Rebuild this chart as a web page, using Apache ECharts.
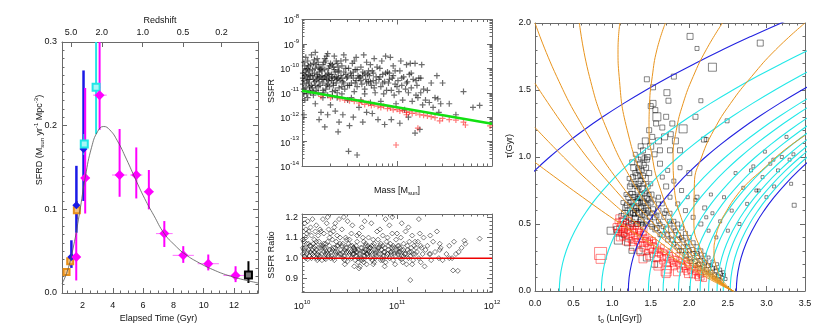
<!DOCTYPE html>
<html lang="en">
  <head>
    <meta charset="UTF-8">
    <title>SFRD, SSFR and log-normal parameters</title>
    <script src="https://cdn.jsdelivr.net/npm/echarts@6/dist/echarts.min.js"></script>
  </head>
  <body style="margin:0;background:#fff">
    <div id="main" style="width: 830px;height:332px;"></div>
    <script type="text/javascript">
      // ---- left panel: cosmic SFRD vs elapsed time ----
      var FIT_T    = [0.65, 1.0, 1.4, 1.8, 2.2, 2.6, 3.0, 3.4, 3.8, 4.3, 4.9, 5.5, 6.1, 6.7, 7.4, 8.1, 8.8, 9.7, 10.6, 11.6, 12.6, 13.58];
      var FIT_SFRD = [0.011, 0.026, 0.055, 0.095, 0.14, 0.174, 0.193, 0.199, 0.195, 0.182, 0.16, 0.136, 0.113, 0.093, 0.071, 0.057, 0.046, 0.036, 0.028, 0.021, 0.016, 0.012];
      // [t, sfrd, tlo, thi, lo, hi]
      var PTS_ORANGE  = [[0.95, 0.025, 0.95, 0.95, 0.021, 0.029], [1.19, 0.038, 1.19, 1.19, 0.033, 0.043], [1.63, 0.099, 1.63, 1.63, 0.088, 0.11]];
      var PTS_BLUE    = [[1.27, 0.043, 1.1, 1.45, 0.03, 0.063], [1.6, 0.105, 1.45, 1.8, 0.072, 0.152], [2.07, 0.172, 1.95, 2.2, 0.11, 0.266]];
      var PTS_CYAN    = [[2.12, 0.178, 2.0, 2.25, 0.165, 0.19], [2.9, 0.246, 2.65, 3.2, 0.19, 0.32]];
      var PTS_MAGENTA = [[1.59, 0.043, 1.59, 1.59, 0.015, 0.072], [2.18, 0.1375, 1.9, 2.5, 0.095, 0.245], [3.13, 0.2365, 2.7, 3.6, 0.195, 0.32],
                         [4.45, 0.141, 3.95, 4.95, 0.115, 0.196], [5.55, 0.141, 5.15, 5.95, 0.113, 0.174], [6.38, 0.121, 6.05, 6.7, 0.1, 0.147],
                         [7.4, 0.071, 6.85, 7.95, 0.055, 0.086], [8.65, 0.045, 7.95, 9.35, 0.036, 0.056], [10.3, 0.035, 9.6, 11.0, 0.027, 0.046],
                         [12.1, 0.021, 11.3, 12.9, 0.013, 0.032]];
      var PTS_BLACK   = [[12.95, 0.0215, 12.95, 12.95, 0.012, 0.038]];
      var TIME_TICKS = [2, 4, 6, 8, 10, 12];
      var REDSHIFT_AT_T = [1.24, 3.28, 5.97, 8.64, 11.17];
      var REDSHIFT_LABELS = ['5.0', '2.0', '1.0', '0.5', '0.2'];

      // ---- middle top: log SSFR vs log mass ----
      var SSFR_BLACK = [
        [10.01,-10.2],[10.02,-10.5],[10.03,-9.9],[10.04,-10.8],[10.05,-10.35],[10.06,-9.7],[10.07,-10.6],[10.08,-10.1],[10.09,-11.0],[10.02,-10.95],
        [10.04,-9.55],[10.06,-10.45],[10.08,-10.75],[10.03,-11.3],[10.05,-10.05],[10.09,-9.85],[10.01,-10.65],[10.07,-10.25],[10.1,-9.45],[10.02,-11.9],[10.06,-11.2],
        [10.11,-10.3],[10.12,-9.8],[10.13,-10.55],[10.14,-10.0],[10.15,-10.9],[10.16,-9.6],[10.17,-10.4],[10.18,-10.15],[10.19,-10.7],[10.12,-11.1],
        [10.14,-9.35],[10.16,-10.25],[10.18,-9.95],[10.11,-10.8],[10.13,-9.65],[10.15,-10.5],[10.17,-11.0],[10.19,-10.05],[10.2,-11.8],[10.14,-11.45],[10.18,-12.1],
        [10.21,-10.1],[10.22,-10.6],[10.23,-9.75],[10.24,-10.35],[10.25,-10.85],[10.26,-9.5],[10.27,-10.2],[10.28,-10.5],[10.29,-9.9],[10.22,-11.2],
        [10.24,-9.6],[10.26,-10.7],[10.28,-10.0],[10.21,-10.45],[10.23,-11.0],[10.25,-10.3],[10.27,-9.4],[10.29,-10.75],[10.3,-11.5],[10.24,-12.4],[10.27,-11.9],
        [10.31,-10.25],[10.32,-9.85],[10.33,-10.6],[10.34,-10.05],[10.35,-10.9],[10.36,-9.7],[10.37,-10.45],[10.38,-10.15],[10.39,-10.8],[10.32,-11.15],
        [10.34,-9.5],[10.36,-10.35],[10.38,-9.95],[10.33,-10.7],[10.37,-11.0],[10.38,-12.6],[10.35,-11.75],[10.39,-12.2],
        [10.41,-10.3],[10.42,-9.9],[10.43,-10.55],[10.44,-10.15],[10.45,-10.85],[10.46,-9.65],[10.47,-10.4],[10.48,-10.7],[10.49,-10.0],[10.42,-11.05],
        [10.44,-9.45],[10.46,-10.25],[10.48,-11.3],[10.49,-13.4],[10.43,-11.9],[10.5,-12.35],
        [10.51,-10.2],[10.52,-10.6],[10.53,-9.8],[10.54,-10.4],[10.55,-10.95],[10.56,-10.05],[10.57,-9.55],[10.58,-10.75],[10.59,-10.3],[10.52,-11.2],
        [10.55,-9.7],[10.57,-10.5],[10.6,-11.6],[10.58,-13.55],[10.54,-12.0],
        [10.61,-10.35],[10.62,-9.95],[10.63,-10.65],[10.64,-10.15],[10.65,-9.45],[10.66,-10.85],[10.67,-10.45],[10.68,-9.75],[10.69,-10.25],[10.62,-11.3],
        [10.66,-11.05],[10.7,-10.55],[10.64,-12.2],[10.68,-11.8],
        [10.71,-10.3],[10.72,-9.85],[10.73,-10.7],[10.74,-10.1],[10.75,-10.5],[10.76,-9.6],[10.77,-11.0],[10.78,-10.35],[10.79,-9.95],[10.72,-11.4],
        [10.76,-10.8],[10.8,-12.1],[10.74,-11.85],
        [10.81,-10.45],[10.82,-10.0],[10.83,-10.75],[10.84,-9.7],[10.85,-10.25],[10.86,-11.05],[10.87,-10.55],[10.88,-9.5],[10.89,-10.9],[10.83,-11.35],
        [10.87,-12.3],[10.9,-10.15],
        [10.91,-10.6],[10.92,-10.2],[10.93,-9.55],[10.94,-10.9],[10.95,-10.4],[10.96,-9.9],[10.97,-11.1],[10.98,-10.65],[10.99,-11.45],[10.94,-12.1],[10.98,-10.1],
        [11.01,-10.5],[11.02,-10.95],[11.03,-10.1],[11.04,-9.7],[11.05,-10.7],[11.06,-11.3],[11.07,-10.35],[11.08,-11.7],[11.09,-10.85],[11.03,-12.25],[11.1,-9.85],
        [11.11,-10.55],[11.12,-11.0],[11.13,-10.25],[11.14,-9.8],[11.15,-10.8],[11.16,-11.35],[11.17,-10.45],[11.19,-12.65],[11.19,-9.8],[11.2,-11.1],[11.12,-12.0],
        [11.21,-10.7],[11.22,-11.2],[11.23,-10.4],[11.24,-12.5],[11.25,-11.0],[11.26,-9.85],[11.27,-11.5],[11.28,-10.85],[11.3,-11.3],
        [11.32,-10.9],[11.34,-11.4],[11.36,-10.6],[11.38,-11.6],[11.4,-11.2],[11.42,-10.3],[11.44,-11.8],[11.46,-11.45],[11.48,-10.6],[11.43,-11.25],
        [11.55,-11.45],[11.62,-11.9],[11.7,-10.95],[11.8,-11.6],[11.87,-11.52],
        [10.01,-10.4],[10.02,-9.75],[10.03,-10.3],[10.04,-10.15],[10.05,-10.6],[10.06,-10.0],[10.07,-9.9],[10.08,-10.45],[10.09,-10.3],[10.1,-10.7],
        [10.11,-10.05],[10.12,-10.45],[10.13,-10.2],[10.14,-10.7],[10.15,-9.85],[10.16,-10.35],[10.17,-9.75],[10.18,-10.55],[10.19,-10.35],[10.2,-10.0],
        [10.21,-10.3],[10.22,-9.85],[10.23,-10.45],[10.24,-10.05],[10.25,-9.7],[10.26,-10.45],[10.27,-10.65],[10.28,-10.25],[10.29,-10.4],[10.3,-9.8],
        [10.31,-10.5],[10.32,-10.35],[10.33,-9.95],[10.34,-10.4],[10.35,-10.15],[10.36,-10.6],[10.37,-9.8],[10.38,-10.4],[10.39,-10.1],[10.4,-10.5],
        [10.41,-9.7],[10.42,-10.4],[10.44,-10.6],[10.46,-10.0],[10.48,-10.35],[10.5,-10.7],[10.52,-10.3],[10.54,-10.15],[10.56,-10.6],[10.58,-10.05],
        [10.6,-10.4],[10.62,-10.5],[10.64,-10.3],[10.66,-10.2],[10.68,-10.6],[10.7,-10.1],[10.72,-10.55],[10.75,-10.2],[10.78,-10.6],[10.82,-10.35],
        [10.85,-10.6],[10.88,-10.2],[10.92,-10.45],[10.96,-10.3],[11.0,-10.75],[11.05,-10.4],[11.1,-10.6],[11.15,-10.2],[11.2,-10.5],[11.25,-10.4],
        [10.02,-10.85],[10.05,-11.05],[10.08,-10.9],[10.12,-10.95],[10.17,-10.75],[10.22,-10.9],[10.27,-11.1],[10.32,-10.95],[10.37,-11.2],[10.42,-10.75]
      ];
      var SSFR_RED = [
        [10.2,-11.15],[10.3,-11.2],[10.4,-11.25],[10.45,-11.3],[10.5,-11.33],[10.55,-11.35],[10.6,-11.42],[10.63,-11.38],[10.66,-11.48],[10.7,-11.44],
        [10.73,-11.52],[10.76,-11.49],[10.8,-11.55],[10.83,-11.6],[10.86,-11.55],[10.9,-11.65],[10.93,-11.62],[10.96,-11.7],[11.0,-11.68],[11.03,-11.75],
        [11.06,-11.72],[11.1,-11.8],[11.1,-11.9],[11.13,-11.78],[11.16,-11.85],[11.2,-11.83],[11.22,-12.45],[11.24,-11.9],[11.28,-11.92],[11.32,-11.95],
        [11.36,-11.98],[11.4,-12.02],[11.45,-12.15],[11.48,-12.05],[11.55,-12.1],[11.62,-12.12],[11.7,-12.2],[11.72,-12.32],[11.98,-12.36],[10.99,-13.14]
      ];
      var SSFR_FIT = [[10, -10.92], [12, -12.27]];

      // ---- middle bottom: SSFR ratio vs log mass ----
      var RATIO = [
        [10.01,1.02],[10.02,1.08],[10.03,1.05],[10.04,1.0],[10.05,1.12],[10.06,1.03],[10.07,1.07],[10.08,1.01],[10.09,1.15],[10.02,1.04],
        [10.04,1.1],[10.06,0.995],[10.08,1.06],[10.03,1.17],[10.05,1.02],[10.07,1.13],[10.09,1.03],[10.01,1.09],[10.1,1.0],[10.06,1.18],
        [10.11,1.04],[10.12,1.01],[10.13,1.09],[10.14,1.06],[10.15,1.16],[10.16,1.02],[10.17,1.11],[10.18,1.0],[10.19,1.05],[10.12,1.07],
        [10.14,1.13],[10.16,0.99],[10.18,1.08],[10.11,1.19],[10.13,1.03],[10.15,1.04],[10.17,1.015],[10.19,1.14],[10.2,1.06],[10.15,1.0],
        [10.21,1.02],[10.22,1.06],[10.23,1.12],[10.24,1.0],[10.25,1.04],[10.26,1.17],[10.27,1.08],[10.28,1.01],[10.29,1.1],[10.22,1.19],
        [10.24,1.05],[10.26,1.03],[10.28,1.14],[10.21,0.99],[10.23,1.07],[10.25,1.02],[10.27,1.2],[10.29,1.04],[10.3,1.0],
        [10.31,1.03],[10.32,1.09],[10.33,1.0],[10.34,1.15],[10.35,1.05],[10.36,1.02],[10.37,1.11],[10.38,1.06],[10.39,1.19],[10.32,1.04],
        [10.34,0.99],[10.36,1.08],[10.38,1.01],[10.33,1.13],[10.37,1.03],[10.4,1.07],[10.35,1.17],
        [10.41,1.02],[10.42,1.06],[10.43,1.0],[10.44,1.2],[10.45,1.04],[10.46,1.1],[10.47,1.03],[10.48,0.985],[10.49,1.07],[10.42,1.14],
        [10.44,1.01],[10.46,1.05],[10.48,1.18],[10.43,1.03],[10.47,1.09],[10.5,1.02],[10.45,0.97],
        [10.51,1.03],[10.52,1.0],[10.53,1.06],[10.54,1.02],[10.55,0.96],[10.56,1.04],[10.57,1.01],[10.58,1.08],[10.59,0.98],[10.52,1.12],
        [10.54,1.05],[10.56,0.99],[10.58,1.03],[10.53,1.16],[10.55,1.02],[10.57,1.06],[10.59,1.0],[10.6,0.95],[10.55,1.04],[10.58,1.11],
        [10.61,1.02],[10.62,1.05],[10.63,0.99],[10.64,1.03],[10.65,1.08],[10.66,1.01],[10.67,1.04],[10.68,0.97],[10.69,1.06],[10.62,1.0],
        [10.64,1.1],[10.66,1.03],[10.68,1.02],[10.63,1.15],[10.65,0.98],[10.67,1.07],[10.69,1.01],[10.7,1.04],[10.61,0.96],[10.66,1.18],
        [10.71,1.03],[10.72,1.0],[10.73,1.06],[10.74,1.02],[10.75,1.09],[10.76,0.98],[10.77,1.04],[10.78,1.01],[10.79,1.13],[10.72,1.05],
        [10.74,0.99],[10.76,1.07],[10.78,1.03],[10.73,1.17],[10.77,1.0],[10.8,1.05],[10.75,0.97],
        [10.81,1.02],[10.82,1.06],[10.83,0.99],[10.84,1.04],[10.85,1.11],[10.86,1.01],[10.87,1.05],[10.88,0.98],[10.89,1.08],[10.82,1.14],
        [10.84,1.0],[10.86,1.03],[10.88,1.19],[10.83,1.07],[10.9,1.02],[10.87,0.96],
        [10.91,1.04],[10.92,1.0],[10.93,1.07],[10.94,1.02],[10.95,1.12],[10.96,0.99],[10.97,1.05],[10.98,1.01],[10.99,1.09],[10.92,1.16],
        [10.94,1.03],[10.96,1.06],[10.98,0.97],[11.0,1.03],[10.95,1.2],
        [11.01,1.02],[11.02,1.06],[11.03,1.0],[11.04,1.1],[11.05,1.04],[11.06,0.98],[11.07,1.07],[11.08,1.02],[11.09,1.13],[11.03,1.05],
        [11.05,1.17],[11.07,1.01],[11.1,0.97],[11.02,1.03],
        [11.11,1.04],[11.12,1.0],[11.13,1.08],[11.14,0.893],[11.15,1.03],[11.16,1.11],[11.17,0.99],[11.18,1.06],[11.19,1.02],[11.12,1.15],
        [11.16,0.97],[11.2,1.05],[11.14,1.01],
        [11.21,1.03],[11.22,1.08],[11.23,1.0],[11.24,1.12],[11.25,0.98],[11.26,1.05],[11.27,1.02],[11.28,1.1],[11.29,0.96],[11.23,1.19],[11.3,1.04],
        [11.32,1.06],[11.34,1.02],[11.36,0.99],[11.38,1.08],[11.4,1.03],[11.42,1.13],[11.44,1.0],[11.46,1.05],[11.48,0.99],[11.35,1.11],[11.45,1.04],
        [11.52,1.02],[11.55,1.06],[11.58,1.0],[11.6,1.08],[11.59,0.94],[11.64,0.938],[11.65,1.03],[11.68,1.05],[11.71,1.085],[11.72,1.07],
        [11.87,1.095],[11.62,1.02],
        [10.01,1.05],[10.03,1.01],[10.05,1.07],[10.07,1.04],[10.09,1.06],[10.11,1.02],[10.13,1.05],[10.15,1.08],[10.17,1.03],[10.19,1.01],
        [10.21,1.05],[10.23,1.03],[10.25,1.07],[10.27,1.02],[10.29,1.06],[10.31,1.01],[10.33,1.05],[10.35,1.03],[10.37,1.06],[10.39,1.02],
        [10.41,1.04],[10.43,1.07],[10.45,1.01],[10.47,1.05],[10.49,1.03],[10.51,1.06],[10.53,1.02],[10.55,1.05],[10.57,1.03],[10.59,1.04],
        [10.61,1.01],[10.63,1.05],[10.65,1.03],[10.67,1.06],[10.69,1.02],[10.71,1.05],[10.73,1.03],[10.75,1.06],[10.77,1.02],[10.79,1.04],
        [10.81,1.05],[10.83,1.02],[10.85,1.06],[10.87,1.03],[10.89,1.01],[10.91,1.06],[10.93,1.03],[10.95,1.05],[10.97,1.02],[10.99,1.04],
        [11.01,1.06],[11.03,1.03],[11.05,1.01],[11.07,1.04],[11.09,1.02],[11.11,1.06],[11.13,1.03],[11.15,1.05],[11.17,1.02],[11.19,1.08],
        [10.04,1.14],[10.1,1.11],[10.2,1.13],[10.3,1.12],[10.4,1.1],[10.5,1.09],[10.6,1.12],[10.7,1.1],[10.8,1.09],[10.9,1.1],
        [11.0,1.12],[11.25,1.06],[11.35,1.02],[11.45,1.07],[11.55,1.0],[10.45,0.99],[10.65,0.995],[10.85,0.99],[11.05,0.995],[10.25,0.995]
      ];
      var RATIO_REF = [[10, 1.0], [12, 1.0]];

      // ---- right panel: tau vs t0 ----
      // one peak-time track, read off the arcs: offset along t0 -> tau
      var PEAK_DX  = [0, 0.01, 0.04, 0.09, 0.16, 0.25, 0.36, 0.49, 0.64, 0.81, 1.0, 1.21, 1.44, 1.69, 1.96, 2.25, 2.56, 2.89, 3.24, 3.61, 4.0, 4.41];
      var PEAK_TAU = [0, 0.1, 0.2, 0.3, 0.4, 0.5, 0.6, 0.7, 0.8, 0.9, 1.0, 1.1, 1.2, 1.3, 1.4, 1.5, 1.6, 1.7, 1.8, 1.9, 2.0, 2.1];
      var CYAN_START = [0.315, 0.86, 1.47, 1.66, 1.86, 2.01, 2.14, 2.25, 2.36, 2.44, 2.53];
      var BLUE_START = [-0.81, 1.21, 2.61];
      var ORANGE_CURVES = [
        [[2.57,0],[2.493,0.02],[2.389,0.05],[2.228,0.1],[1.93,0.2],[1.649,0.3],[1.115,0.5],[0.617,0.7],[0,0.96]],
        [[2.57,0],[2.499,0.02],[2.406,0.05],[2.264,0.1],[2.004,0.2],[1.764,0.3],[1.325,0.5],[0.732,0.8],[0.37,1.0],[0,1.22]],
        [[2.57,0],[2.502,0.02],[2.416,0.05],[2.285,0.1],[2.05,0.2],[1.838,0.3],[1.458,0.5],[0.97,0.8],[0.54,1.1],[0,1.55]],
        [[2.57,0],[2.505,0.02],[2.42,0.05],[2.297,0.1],[2.078,0.2],[1.88,0.3],[1.54,0.5],[1.106,0.8],[0.65,1.2],[0.282,1.6],[0,2.0]],
        [[2.57,0],[2.507,0.02],[2.428,0.05],[2.3125,0.1],[2.11,0.2],[1.935,0.3],[1.636,0.5],[1.282,0.8],[0.936,1.2],[0.706,1.6],[0.575,2.0]],
        [[2.57,0],[2.509,0.02],[2.434,0.05],[2.325,0.1],[2.14,0.2],[1.982,0.3],[1.72,0.5],[1.434,0.8],[1.196,1.2],[1.091,1.6],[1.076,1.8],[1.1,2.0]],
        [[2.57,0],[2.511,0.02],[2.44,0.05],[2.337,0.1],[2.168,0.2],[2.03,0.3],[1.81,0.5],[1.602,0.8],[1.52,1.0],[1.478,1.2],[1.485,1.4],[1.52,1.6],[1.58,1.8],[1.69,2.0]],
        [[2.57,0],[2.514,0.02],[2.447,0.05],[2.352,0.1],[2.201,0.2],[2.084,0.3],[1.922,0.5],[1.802,0.8],[1.79,1.0],[1.832,1.2],[1.92,1.4],[2.05,1.6],[2.219,1.8],[2.43,2.0]],
        [[2.57,0],[2.516,0.02],[2.455,0.05],[2.37,0.1],[2.244,0.2],[2.155,0.3],[2.06,0.5],[2.066,0.8],[2.16,1.0],[2.318,1.2],[2.535,1.4],[2.807,1.6],[3.119,1.8],[3.5,2.0]],
        [[2.57,0],[2.522,0.02],[2.472,0.05],[2.41,0.1],[2.34,0.2],[2.32,0.3],[2.342,0.4],[2.395,0.5],[2.486,0.6],[2.598,0.7],[2.746,0.8],[2.939,0.9],[3.23,1.05],[3.498,1.16]]
      ];
      // [t0, tau, marker size]
      var FIT_BLACK = [
        [1.18,0.52,5],[1.2,0.6,5],[1.22,0.55,6],[1.24,0.66,5],[1.25,0.5,5],[1.26,0.72,6],[1.27,0.58,5],[1.28,0.63,5],[1.29,0.8,5],[1.3,0.54,6],
        [1.3,0.7,5],[1.31,0.62,5],[1.32,0.86,6],[1.33,0.5,5],[1.33,0.75,5],[1.34,0.66,5],[1.35,0.58,6],[1.35,0.9,5],[1.36,0.7,5],[1.37,0.53,5],
        [1.37,0.82,5],[1.38,0.62,5],[1.39,0.76,6],[1.4,0.48,5],[1.4,0.67,5],[1.41,0.94,5],[1.42,0.57,5],[1.42,0.73,5],[1.43,0.84,6],[1.44,0.62,5],
        [1.45,0.52,5],[1.45,0.69,5],[1.46,0.78,5],[1.47,0.6,5],[1.48,0.88,5],[1.49,0.55,5],[1.5,0.66,5],[1.51,0.72,5],[1.52,0.48,5],[1.53,0.61,5],
        [1.28,0.92,6],[1.23,0.78,5],[1.21,0.7,5],[1.19,0.64,5],[1.16,0.58,6],[1.34,0.98,5],[1.38,1.0,6],[1.27,0.85,5],[1.36,0.62,4],[1.31,0.78,4],
        [1.39,0.56,4],[1.44,0.74,4],[1.26,0.64,4],[1.33,0.69,4],[1.41,0.8,4],[1.29,0.57,4],[1.35,0.77,4],[1.47,0.68,4],[1.24,0.73,4],[1.32,0.6,4],
        [1.15,0.5,5],[1.17,0.62,5],[1.19,0.55,4],[1.21,0.48,5],[1.22,0.66,4],[1.24,0.58,5],[1.25,0.8,5],[1.27,0.52,4],[1.28,0.7,5],[1.29,0.6,4],
        [1.3,0.88,5],[1.31,0.5,4],[1.32,0.67,5],[1.33,0.58,4],[1.34,0.8,5],[1.35,0.52,4],[1.36,0.95,5],[1.37,0.66,4],[1.38,0.72,5],[1.39,0.5,4],
        [1.4,0.86,5],[1.41,0.6,4],[1.42,0.66,5],[1.43,0.5,4],[1.44,0.92,5],[1.45,0.58,4],[1.46,0.64,5],[1.48,0.72,4],[1.5,0.5,5],[1.5,0.8,4],
        [1.52,0.58,5],[1.54,0.68,4],[1.56,0.46,5],[1.58,0.56,4],[1.6,0.65,4],[1.62,0.42,4],[1.26,0.96,5],[1.3,1.02,4],[1.33,0.92,4],[1.36,0.86,4],
        [1.39,0.9,4],[1.42,0.99,5],[1.22,0.84,4],[1.18,0.72,4],[1.14,0.66,4],[1.12,0.56,5],
        [0.98,0.45,7],[1.08,0.38,8],[1.06,0.46,6],[1.15,0.42,5],[1.2,0.36,6],[1.25,0.3,5],[1.35,0.3,6],[1.45,0.25,7],[1.55,0.2,6],
        [1.55,0.55,5],[1.58,0.47,5],[1.6,0.6,5],[1.62,0.5,4],[1.65,0.42,5],[1.67,0.55,4],[1.7,0.46,5],[1.72,0.38,4],[1.75,0.5,4],[1.77,0.42,5],
        [1.8,0.35,4],[1.82,0.45,4],[1.85,0.38,5],[1.87,0.3,4],[1.9,0.4,4],[1.92,0.33,4],[1.95,0.27,5],[1.97,0.36,4],[2.0,0.3,4],[2.02,0.24,4],
        [2.05,0.28,4],[2.08,0.22,4],[2.1,0.26,5],[2.12,0.2,4],[2.15,0.23,4],[2.18,0.18,4],[2.2,0.21,4],[2.22,0.16,4],[2.25,0.19,4],[2.28,0.14,4],
        [2.3,0.17,4],[2.33,0.12,4],[2.35,0.15,4],[2.38,0.11,4],[2.4,0.13,4],[2.43,0.1,3],[2.45,0.12,3],[2.47,0.09,3],[1.6,0.7,4],[1.65,0.65,4],
        [1.7,0.6,4],[1.75,0.58,4],[1.8,0.52,4],[1.85,0.5,4],[1.9,0.47,4],[1.95,0.43,4],[2.0,0.4,4],[2.05,0.36,4],[2.1,0.33,4],[2.15,0.3,4],
        [2.2,0.27,3],[2.25,0.25,3],[2.3,0.22,3],
        [1.6,0.52,4],[1.66,0.48,4],[1.72,0.42,4],[1.78,0.38,4],[1.84,0.33,4],[1.9,0.3,4],[1.96,0.26,4],[2.02,0.22,4],[2.08,0.19,4],[2.14,0.17,4],
        [2.2,0.14,4],[2.26,0.13,3],[2.32,0.1,3],[2.38,0.09,3],[2.42,0.07,3],[1.68,0.58,4],[1.74,0.52,4],[1.8,0.47,4],[1.86,0.42,4],[1.92,0.38,4],
        [1.98,0.33,4],[2.04,0.31,4],[2.1,0.28,4],[2.16,0.25,3],[2.22,0.22,3],[2.28,0.19,3],[2.34,0.17,3],[2.4,0.16,3],[2.44,0.14,3],[2.36,0.2,3],
        [1.4,1.05,5],[1.43,1.12,6],[1.46,1.0,5],[1.48,1.2,5],[1.5,1.08,6],[1.52,1.15,5],[1.55,1.02,5],[1.57,1.25,5],[1.6,1.12,6],[1.62,1.05,5],
        [1.5,1.38,5],[1.53,1.4,6],[1.56,1.35,5],[1.65,1.22,5],[1.68,1.15,6],[1.71,1.48,6],[1.73,1.42,5],[1.76,1.17,5],[1.78,1.25,5],[1.8,1.6,5],
        [1.82,1.12,6],[1.7,1.3,5],[1.58,1.3,8],[1.92,1.21,8],[1.45,0.98,5],[1.62,0.95,5],[1.37,1.08,5],[1.75,1.05,5],[1.88,1.05,5],[1.53,1.52,5],
        [2.01,1.9,6],[2.1,1.81,4],[2.3,1.67,8],[2.92,1.85,6],[2.15,1.42,4],[2.08,1.3,5],[2.19,1.13,5],[2.22,1.13,4],[2.49,1.27,4],[1.45,1.58,5],
        [1.65,0.85,4],[1.7,0.78,5],[1.75,0.7,4],[1.8,0.82,4],[1.85,0.65,4],[1.9,0.75,4],[1.95,0.6,4],[2.0,0.88,5],[2.05,0.55,4],[2.1,0.7,4],
        [2.15,0.5,4],[2.2,0.62,4],[2.25,0.45,3],[2.3,0.58,3],[2.35,0.4,3],[2.4,0.52,3],[1.98,0.7,3],[2.08,0.68,3],[2.22,0.55,3],[2.28,0.72,3],
        [1.72,0.9,4],[1.88,0.92,4],
        [2.55,0.6,3],[2.6,0.88,3],[2.65,0.5,3],[2.7,0.77,3],[2.75,0.65,3],[2.8,0.9,3],[2.83,0.93,3],[2.87,0.75,3],[2.9,0.75,3],[2.95,0.85,3],
        [3.0,0.7,3],[3.05,0.95,3],[3.09,0.98,3],[3.15,0.9,3],[3.2,1.0,3],[3.26,1.15,3],[3.3,0.98,3],[3.32,0.8,3],[3.36,0.64,4],[3.35,1.02,3],
        [2.5,0.45,3],[2.45,0.7,3],[3.1,0.78,3],[2.98,1.04,3]
      ];
      var FIT_RED = [
        [1.05,0.48,6],[1.07,0.52,5],[1.08,0.44,6],[1.1,0.5,5],[1.12,0.46,6],[1.13,0.4,5],[1.15,0.48,5],[1.16,0.43,6],[1.18,0.51,5],[1.2,0.45,5],
        [1.21,0.39,6],[1.23,0.47,5],[1.25,0.42,5],[1.26,0.36,6],[1.28,0.44,5],[1.3,0.39,5],[1.31,0.48,5],[1.33,0.41,6],[1.35,0.35,5],[1.36,0.44,5],
        [1.38,0.38,5],[1.4,0.32,6],[1.42,0.4,5],[1.44,0.35,5],[1.45,0.29,5],[1.47,0.37,5],[1.5,0.32,6],[1.52,0.27,5],[1.54,0.34,5],[1.56,0.3,5],
        [1.58,0.24,6],[1.6,0.31,5],[1.62,0.27,5],[1.65,0.22,5],[1.67,0.29,5],[1.7,0.25,6],[1.72,0.2,5],[1.75,0.27,5],[1.78,0.22,5],[1.8,0.18,6],
        [1.83,0.24,5],[1.86,0.2,5],[1.88,0.16,5],[1.9,0.22,5],[1.93,0.18,5],[1.96,0.14,5],[1.98,0.19,5],[2.01,0.15,5],[2.04,0.12,6],[2.07,0.16,5],
        [2.1,0.11,5],[2.13,0.13,5],[2.16,0.1,5],[2.19,0.09,5],[1.1,0.4,7],[1.18,0.37,7],[1.27,0.33,7],[1.37,0.29,7],[1.48,0.26,7],[1.6,0.2,7],
        [1.72,0.16,7],[1.84,0.14,7],[1.22,0.53,5],[1.32,0.5,5],[1.42,0.46,5],[1.25,0.48,4],[1.35,0.43,4],[1.45,0.41,4],[1.55,0.37,4],[1.14,0.45,4],
        [1.3,0.45,4],[1.5,0.39,4],[1.65,0.33,4],[1.75,0.3,4],[1.85,0.27,4],[1.95,0.23,4],[2.05,0.19,4],[1.08,0.55,5],[1.12,0.53,5],
        [1.06,0.44,5],[1.09,0.47,5],[1.11,0.43,5],[1.14,0.5,5],[1.17,0.46,5],[1.19,0.41,5],[1.22,0.44,5],[1.24,0.38,5],[1.27,0.46,5],[1.29,0.41,5],
        [1.32,0.37,5],[1.34,0.45,5],[1.37,0.4,5],[1.39,0.35,5],[1.41,0.43,5],[1.43,0.38,5],[1.46,0.33,5],[1.49,0.36,5],[1.51,0.3,5],[1.53,0.38,5],
        [1.57,0.33,5],[1.59,0.28,5],[1.63,0.3,5],[1.66,0.25,5],[1.69,0.28,5],[1.73,0.23,5],[1.76,0.25,5],[1.79,0.2,5],[1.82,0.21,5],[1.87,0.23,5],
        [1.91,0.19,5],[1.94,0.16,5],[1.97,0.21,5],[2.03,0.17,5],[2.08,0.14,5],[2.11,0.17,5],[2.15,0.12,5],
        [0.85,0.28,12],[0.85,0.24,9],[1.7,0.15,10],[1.7,0.13,8],[1.99,0.13,8],[1.6,0.19,9],[2.12,0.1,6],[1.4,0.24,8]
      ];

      var FONT = 'Liberation Sans';
      var LINE = '#6a6a6a';
      var RICH = {
        b: {fontSize: 9, fontFamily: FONT, color: '#111', lineHeight: 12, verticalAlign: 'bottom'},
        e: {fontSize: 6, fontFamily: FONT, color: '#111', lineHeight: 12, verticalAlign: 'top'}
      };

      function range(a, b, d) { var out = []; for (var v = a; v <= b + 1e-9; v += d) out.push(+v.toFixed(4)); return out; }
      function without(arr, skip) {
        return arr.filter(function (v) { return skip.every(function (s) { return Math.abs(s - v) > 1e-6; }); });
      }
      function logMinor(a, b) { var out = []; for (var e = a; e < b; e++) for (var k = 2; k <= 9; k++) out.push(e + Math.log10(k)); return out; }
      function zip(a, b) { return a.map(function (v, i) { return [v, b[i]]; }); }

      var xAxes = [], yAxes = [];
      function axis(grid, pos, min, max, ticks, len, withLine, label) {
        return {
          type: 'value', gridIndex: grid, position: pos, min: min, max: max,
          splitLine: {show: false},
          axisLine: {show: withLine, onZero: false, lineStyle: {color: LINE, width: 1}},
          axisTick: {show: true, inside: true, length: len, customValues: ticks, lineStyle: {color: LINE, width: 1}},
          axisLabel: label || {show: false}
        };
      }
      function lab(values, fmt, margin) {
        return {show: true, customValues: values, formatter: fmt, margin: margin, fontSize: 9, fontFamily: FONT, color: '#111', rich: RICH};
      }
      // IDL-like box: ticks on all four sides, labels on bottom/left only
      function box(grid, dim, min, max, major, minor, label, mirror) {
        var list = dim === 'x' ? xAxes : yAxes;
        var p1 = dim === 'x' ? 'bottom' : 'left', p2 = dim === 'x' ? 'top' : 'right';
        var main = list.length;
        list.push(axis(grid, p1, min, max, major, 5, true, label));
        list.push(axis(grid, p1, min, max, minor, 2.5, false));
        if (mirror !== false) {
          list.push(axis(grid, p2, min, max, major, 5, true));
          list.push(axis(grid, p2, min, max, minor, 2.5, false));
        }
        return main;
      }
      function fix1(v) { return v.toFixed(1); }
      function pow10(v) { return '{b|10}{e|' + Math.round(v) + '}'; }

      // left panel axes
      var X0 = box(0, 'x', 0.65, 13.58, TIME_TICKS, without(range(1, 13.5, 0.5), TIME_TICKS), lab(TIME_TICKS, function (v) { return String(Math.round(v)); }, 8), false);
      xAxes.push(axis(0, 'top', 0.65, 13.58, REDSHIFT_AT_T, 5, true, lab(REDSHIFT_AT_T, function (v) {
        var best = 0;
        REDSHIFT_AT_T.forEach(function (t, i) { if (Math.abs(t - v) < Math.abs(REDSHIFT_AT_T[best] - v)) best = i; });
        return REDSHIFT_LABELS[best];
      }, 5)));
      var Y0 = box(0, 'y', 0, 0.3, [0, 0.1, 0.2, 0.3], without(range(0, 0.3, 0.01), [0, 0.1, 0.2, 0.3]), lab([0, 0.1, 0.2, 0.3], fix1, 5));

      // middle top
      var X1 = box(1, 'x', 10, 12, [10, 11, 12], logMinor(10, 12), {show: false});
      var Y1 = box(1, 'y', -14, -8, range(-14, -8, 1), logMinor(-14, -8), lab(range(-14, -8, 1), pow10, 3));

      // middle bottom
      var X2 = box(2, 'x', 10, 12, [10, 11, 12], logMinor(10, 12), lab([10, 11, 12], pow10, 7));
      var Y2 = box(2, 'y', 0.835, 1.215, [0.9, 1.0, 1.1, 1.2], without(range(0.84, 1.2, 0.02), [0.9, 1.0, 1.1, 1.2]), lab([0.9, 1.0, 1.1, 1.2], fix1, 4));

      // right panel
      var X3 = box(3, 'x', 0, 3.5, range(0, 3.5, 0.5), without(range(0, 3.5, 0.1), range(0, 3.5, 0.5)), lab(range(0, 3.5, 0.5), fix1, 8));
      var Y3 = box(3, 'y', 0, 2, range(0, 2, 0.5), without(range(0, 2, 0.1), range(0, 2, 0.5)), lab(range(0, 2, 0.5), fix1, 4));

      var series = [];
      function errSeries(rows, vColor, hColor, vw) {
        return {
          type: 'custom', xAxisIndex: X0, yAxisIndex: Y0, clip: true, data: rows, silent: true,
          encode: {x: 0, y: 1},
          renderItem: function (params, api) {
            var c = api.coord([api.value(0), api.value(1)]);
            var lo = api.coord([api.value(0), api.value(4)]);
            var hi = api.coord([api.value(0), api.value(5)]);
            var l = api.coord([api.value(2), api.value(1)]);
            var r = api.coord([api.value(3), api.value(1)]);
            return {type: 'group', children: [
              {type: 'line', shape: {x1: l[0], y1: c[1], x2: r[0], y2: c[1]}, style: {stroke: hColor, lineWidth: 1}},
              {type: 'line', shape: {x1: c[0], y1: lo[1], x2: c[0], y2: hi[1]}, style: {stroke: vColor, lineWidth: vw}}
            ]};
          }
        };
      }
      function marks(rows, symbol, size, fill, border, bw) {
        return {
          type: 'scatter', xAxisIndex: X0, yAxisIndex: Y0, symbol: symbol, symbolSize: size, silent: true,
          data: rows.map(function (r) { return [r[0], r[1]]; }),
          itemStyle: {color: fill, borderColor: border, borderWidth: bw, opacity: 1}
        };
      }

      series.push({type: 'line', xAxisIndex: X0, yAxisIndex: Y0, data: zip(FIT_T, FIT_SFRD), showSymbol: false, smooth: true,
                   lineStyle: {color: '#555', width: 0.8}, silent: true});
      series.push(errSeries(PTS_ORANGE, '#e8901a', '#f0b060', 2));
      series.push(errSeries(PTS_BLUE, '#1a1ae6', '#4a4aff', 2.5));
      series.push(errSeries(PTS_CYAN, '#22e6e6', '#88f2f2', 2));
      series.push(errSeries(PTS_MAGENTA, '#ff00ff', '#ff70ff', 2));
      series.push(errSeries(PTS_BLACK, '#000', '#000', 2));
      series.push(marks(PTS_ORANGE, 'rect', 6, '#f6c27e', '#e8901a', 2));
      series.push(marks(PTS_BLUE, 'diamond', 8, '#1a1ae6', '#1a1ae6', 0));
      series.push(marks(PTS_CYAN, 'rect', 7, '#aaf6f6', '#22e6e6', 2));
      series.push(marks(PTS_MAGENTA, 'diamond', 10, '#ff00ff', '#ff00ff', 0));
      series.push(marks(PTS_BLACK, 'rect', 7, '#777', '#000', 2));

      var PLUS = 'path://M4,0H6V4H10V6H6V10H4V6H0V4H4Z';
      series.push({type: 'scatter', xAxisIndex: X1, yAxisIndex: Y1, symbol: PLUS, symbolSize: 6, data: SSFR_BLACK, silent: true,
                   itemStyle: {color: 'rgba(0,0,0,0.72)'}});
      series.push({type: 'line', xAxisIndex: X1, yAxisIndex: Y1, data: SSFR_FIT, showSymbol: false, silent: true,
                   lineStyle: {color: '#12e012', width: 2.5}});
      series.push({type: 'scatter', xAxisIndex: X1, yAxisIndex: Y1, symbol: PLUS, symbolSize: 6, data: SSFR_RED, silent: true,
                   itemStyle: {color: 'rgba(255,0,0,0.65)'}});

      series.push({type: 'scatter', xAxisIndex: X2, yAxisIndex: Y2, symbol: 'diamond', symbolSize: 5, data: RATIO, silent: true,
                   itemStyle: {color: 'rgba(0,0,0,0)', borderColor: 'rgba(0,0,0,0.8)', borderWidth: 0.8}});
      series.push({type: 'line', xAxisIndex: X2, yAxisIndex: Y2, data: RATIO_REF, showSymbol: false, silent: true,
                   lineStyle: {color: '#ee0000', width: 1.5}});

      series.push({type: 'scatter', xAxisIndex: X3, yAxisIndex: Y3, symbol: 'rect', data: FIT_BLACK, silent: true,
                   symbolSize: function (v) { return v[2]; },
                   itemStyle: {color: 'rgba(0,0,0,0)', borderColor: 'rgba(0,0,0,0.75)', borderWidth: 0.8}});
      series.push({type: 'scatter', xAxisIndex: X3, yAxisIndex: Y3, symbol: 'rect', data: FIT_RED, silent: true,
                   symbolSize: function (v) { return v[2]; },
                   itemStyle: {color: 'rgba(0,0,0,0)', borderColor: 'rgba(255,0,0,0.65)', borderWidth: 0.9}});
      function track(x0) { return PEAK_DX.map(function (d, i) { return [x0 + d, PEAK_TAU[i]]; }); }
      CYAN_START.forEach(function (x0) {
        series.push({type: 'line', xAxisIndex: X3, yAxisIndex: Y3, data: track(x0), showSymbol: false, smooth: true, silent: true,
                     lineStyle: {color: '#22e8e8', width: 1.1}});
      });
      BLUE_START.forEach(function (x0) {
        series.push({type: 'line', xAxisIndex: X3, yAxisIndex: Y3, data: track(x0), showSymbol: false, smooth: true, silent: true,
                     lineStyle: {color: '#2222e0', width: 1.1}});
      });
      ORANGE_CURVES.forEach(function (c) {
        series.push({type: 'line', xAxisIndex: X3, yAxisIndex: Y3, data: c, showSymbol: false, smooth: true, silent: true,
                     lineStyle: {color: '#e8941e', width: 1}});
      });

      var TITLE_RICH = {
        n: {fontSize: 9, fontFamily: FONT, fill: '#111', color: '#111', lineHeight: 12, verticalAlign: 'middle'},
        sub: {fontSize: 6, fontFamily: FONT, fill: '#111', color: '#111', lineHeight: 6, verticalAlign: 'bottom'},
        sup: {fontSize: 6, fontFamily: FONT, fill: '#111', color: '#111', lineHeight: 6, verticalAlign: 'top'}
      };
      function title(x, y, text, rot) {
        return {type: 'text', x: x, y: y, rotation: rot ? Math.PI / 2 : 0, silent: true,
                style: {text: text, rich: TITLE_RICH, align: 'center', verticalAlign: 'middle', fill: '#111', font: '9px ' + FONT}};
      }

      var chart = echarts.init(document.getElementById('main'), null, {renderer: 'canvas'});
      chart.setOption({
        animation: false,
        backgroundColor: '#fff',
        grid: [
          {left: 62, top: 42, width: 196, height: 251},
          {left: 302, top: 19.5, width: 190, height: 146.5},
          {left: 302, top: 214, width: 190, height: 78},
          {left: 535, top: 23, width: 270, height: 268}
        ],
        xAxis: xAxes,
        yAxis: yAxes,
        series: series,
        graphic: [
          title(160, 20.5, '{n|Redshift}'),
          title(158.5, 318.5, '{n|Elapsed Time (Gyr)}'),
          title(39.5, 140, '{n|SFRD (M}{sub|sun}{n| yr}{sup|-1}{n| Mpc}{sup|-3}{n|)}', true),
          title(272, 91, '{n|SSFR}', true),
          title(397, 190.5, '{n|Mass [M}{sub|sun}{n|]}'),
          title(272, 255, '{n|SSFR Ratio}', true),
          title(620, 318.5, '{n|t}{sub|0}{n| (Ln[Gyr])}'),
          title(509.5, 146, '{n|\u03c4(Gyr)}', true)
        ]
      });
    </script>
  </body>
</html>
